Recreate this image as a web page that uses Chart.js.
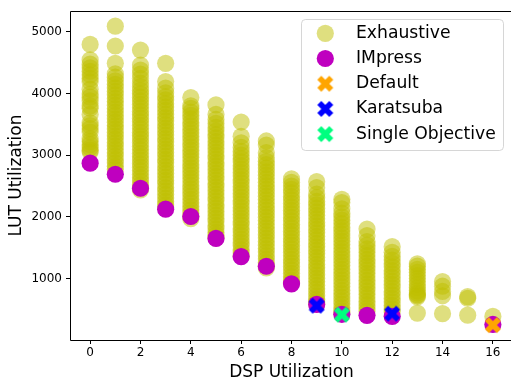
<!DOCTYPE html>
<html><head><meta charset="utf-8">
<script src="https://cdn.jsdelivr.net/npm/chart.js@4.4.0/dist/chart.umd.min.js"></script>
<style>html,body{margin:0;padding:0;overflow:hidden;background:#fff}canvas{display:block}</style>
</head><body>
<canvas id="c" width="520" height="381"></canvas>
<script>
// ---- data ----
const dspCategories = [0,1,2,3,4,5,6,7,8,9,10,11,12,13,14,15,16];
const exhaustiveLUT = [
  [4795,4545,4475,4415,4360,4300,4245,4190,4070,3990,3940,3880,3800,3760,3660,3525,3480,3430,3375,3265,3220,3170,3120,3080,3050],
  [5092,4770,4490,4320,4265,4205,4150,4090,4035,3980,3920,3870,3810,3755,3700,3645,3590,3535,3480,3425,3370,3315,3260,3205,3150,3095,3040,2985,2930,2875,2820,2770],
  [4704,4462,4380,4315,4245,4170,4110,4050,3995,3940,3880,3825,3770,3710,3655,3600,3540,3485,3430,3370,3315,3260,3200,3145,3090,3030,2975,2920,2860,2805,2750,2690,2635,2580,2520,2470,2435],
  [4489,4194,4086,4010,3950,3895,3835,3780,3725,3665,3610,3555,3495,3440,3385,3325,3270,3215,3155,3100,3045,2985,2930,2875,2815,2760,2705,2645,2590,2535,2475,2420,2365,2305,2250,2195,2150],
  [3935,3800,3760,3700,3645,3590,3530,3475,3420,3360,3305,3250,3190,3135,3080,3020,2965,2910,2850,2795,2740,2680,2625,2570,2510,2455,2400,2340,2285,2230,2170,2115,2060,2010,1970],
  [3815,3660,3580,3515,3450,3390,3335,3280,3220,3165,3110,3050,2995,2940,2880,2825,2770,2710,2655,2600,2540,2485,2430,2370,2315,2260,2200,2145,2090,2030,1975,1920,1860,1805,1750,1700,1660],
  [3537,3306,3200,3125,3060,3000,2945,2890,2830,2775,2720,2660,2605,2550,2490,2435,2380,2320,2265,2210,2150,2095,2040,1980,1925,1870,1810,1755,1700,1640,1585,1530,1470,1415,1370],
  [3230,3165,3040,2960,2900,2845,2790,2730,2675,2620,2560,2505,2450,2390,2335,2280,2220,2165,2110,2050,1995,1940,1880,1825,1770,1710,1655,1600,1540,1485,1430,1370,1315,1260,1205,1170],
  [2615,2560,2500,2445,2390,2330,2275,2220,2160,2105,2050,1990,1935,1880,1820,1765,1710,1650,1595,1540,1480,1425,1370,1310,1255,1200,1140,1085,1030,975,935],
  [2570,2473,2370,2310,2250,2195,2140,2080,2025,1970,1910,1855,1800,1740,1685,1630,1570,1515,1460,1400,1345,1290,1230,1175,1120,1060,1005,950,890,835,780,720,665,620,590],
  [2285,2231,2130,2060,2000,1945,1890,1830,1775,1720,1660,1605,1550,1490,1435,1380,1320,1265,1210,1150,1095,1040,980,925,870,810,755,700,640,585,530,475,440],
  [1801,1694,1600,1540,1480,1425,1370,1310,1255,1200,1140,1085,1030,970,915,860,800,745,690,630,575,520,470],
  [1516,1424,1360,1300,1245,1190,1130,1075,1020,960,905,850,790,735,680,620,565,510,460],
  [1237,1200,1150,1100,1048,1000,950,900,850,800,765,740,720,700,440],
  [950,875,790,720,430],
  [705,680,405],
  [385]
];
const impressDSP = [0,1,2,3,4,5,6,7,8,9,10,11,12,16];
const impressLUT = [2870,2690,2463,2124,2005,1650,1355,1199,914,580,420,403,387,255];
const defaultDSP = [16];
const defaultLUT = [245];
const karatsubaDSP = [9,12];
const karatsubaLUT = [560,430];
const singleObjDSP = [10];
const singleObjLUT = [414];
const xTicks = [0,2,4,6,8,10,12,14,16];
const yTicks = [1000,2000,3000,4000,5000];
const seriesLabels = ['Exhaustive','IMpress','Default','Karatsuba','Single Objective'];
const xTitle = 'DSP Utilization';
const yTitle = 'LUT Utilization';

// ---- styles ----
const FONT = "'DejaVu Sans', sans-serif";
const colExh = 'rgba(191,191,0,0.5)';
const colImp = '#bf00bf';
const colDef = '#ffa500';
const colKar = '#0000ff';
const colSO = '#00ff7f';
const R = 8.6;

function xMarker(color, size){
  const s = Math.ceil(size) + 2;
  const c = document.createElement('canvas'); c.width = s; c.height = s;
  const g = c.getContext('2d');
  const pts = [[-1,-2],[0,-1],[1,-2],[2,-1],[1,0],[2,1],[1,2],[0,1],[-1,2],[-2,1],[-1,0],[-2,-1]];
  g.beginPath();
  pts.forEach(([px,py],i)=>{const X=s/2+px/4*size, Y=s/2+py/4*size; i?g.lineTo(X,Y):g.moveTo(X,Y);});
  g.closePath(); g.fillStyle = color; g.fill();
  return c;
}
const mkDef = xMarker(colDef, 16), mkKar = xMarker(colKar, 16), mkSO = xMarker(colSO, 16);

const pts = (xs, ys) => xs.map((x,i)=>({x, y: ys[i]}));
const exhPts = exhaustiveLUT.flatMap((col,i)=>col.map(v=>({x: dspCategories[i], y: v})));

const framePlugin = {
  id:'frame',
  afterDatasetsDraw(chart){
    const {ctx, chartArea:a} = chart;
    const l = Math.floor(a.left)+0.5, t = Math.floor(a.top)+0.5, b = Math.floor(a.bottom)+0.5, r = a.right;
    ctx.save(); ctx.strokeStyle = '#000'; ctx.lineWidth = 1;
    ctx.beginPath();
    ctx.moveTo(r, t); ctx.lineTo(l, t); ctx.lineTo(l, b); ctx.lineTo(r, b);
    ctx.stroke();
    ctx.restore();
  }
};
const legendPlugin = {
  id:'mplLegend',
  afterDraw(chart){
    const ctx = chart.ctx;
    ctx.save();
    const bx=301.5, by=19.5, bw=202, bh=131, r=4;
    ctx.beginPath(); ctx.roundRect(bx,by,bw,bh,r);
    ctx.fillStyle='rgba(255,255,255,0.8)'; ctx.fill();
    ctx.strokeStyle='rgba(204,204,204,0.8)'; ctx.lineWidth=1; ctx.stroke();
    const mx = 325.3, tx = 356, y0 = 33.3, dy = 25.2;
    const markers = [
      {t:'c', c:colExh}, {t:'c', c:colImp}, {t:'x', m:mkDef}, {t:'x', m:mkKar}, {t:'x', m:mkSO}
    ];
    ctx.font = '17.2px ' + FONT; ctx.fillStyle='#000'; ctx.textBaseline='middle'; ctx.textAlign='left';
    seriesLabels.forEach((lab,i)=>{
      const y = y0 + i*dy;
      const m = markers[i];
      if (m.t==='c'){ ctx.beginPath(); ctx.arc(mx,y,R,0,Math.PI*2); ctx.fillStyle=m.c; ctx.fill(); }
      else { ctx.drawImage(m.m, mx - m.m.width/2, y - m.m.height/2); }
      ctx.fillStyle='#000';
      ctx.fillText(lab, tx, y);
    });
    ctx.restore();
  }
};

new Chart(document.getElementById('c'), {
  type:'scatter',
  data:{datasets:[
    {label:seriesLabels[0], data:exhPts, pointRadius:R, pointBackgroundColor:colExh, pointBorderWidth:0, order:5},
    {label:seriesLabels[1], data:pts(impressDSP, impressLUT), pointRadius:R, pointBackgroundColor:colImp, pointBorderWidth:0, order:4},
    {label:seriesLabels[2], data:pts(defaultDSP, defaultLUT), pointRadius:8, pointStyle:mkDef, order:3},
    {label:seriesLabels[3], data:pts(karatsubaDSP, karatsubaLUT), pointRadius:8, pointStyle:mkKar, order:2},
    {label:seriesLabels[4], data:pts(singleObjDSP, singleObjLUT), pointRadius:8, pointStyle:mkSO, order:1}
  ]},
  options:{
    responsive:false, animation:false, events:[],
    layout:{autoPadding:false, padding:{top:9, right:7, left:0, bottom:0}},
    plugins:{legend:{display:false}, tooltip:{enabled:false}},
    scales:{
      x:{type:'linear', min:-0.8, max:16.8,
        afterBuildTicks:s=>{s.ticks = xTicks.map(v=>({value:v}));},
        afterFit:s=>{s.height = 41;},
        grid:{drawOnChartArea:false, drawTicks:true, tickLength:4, tickColor:'#000', lineWidth:1},
        border:{display:false},
        ticks:{color:'#000', font:{family:FONT, size:12}, padding:2, maxRotation:0, autoSkip:false, callback:v=>String(v)},
        title:{display:true, text:xTitle, color:'#000', font:{family:FONT, size:17, lineHeight:1}, padding:{top:0, bottom:0}}
      },
      y:{type:'linear', min:3, max:5334,
        afterBuildTicks:s=>{s.ticks = yTicks.map(v=>({value:v}));},
        afterFit:s=>{s.width = 70;},
        grid:{drawOnChartArea:false, drawTicks:true, tickLength:4, tickColor:'#000', lineWidth:1},
        border:{display:false},
        ticks:{color:'#000', font:{family:FONT, size:12}, padding:4, autoSkip:false, callback:v=>String(v)},
        title:{display:true, text:yTitle, color:'#000', font:{family:FONT, size:17, lineHeight:1.2}, padding:{top:6, bottom:0}}
      }
    }
  },
  plugins:[framePlugin, legendPlugin]
});
</script>
</body></html>
